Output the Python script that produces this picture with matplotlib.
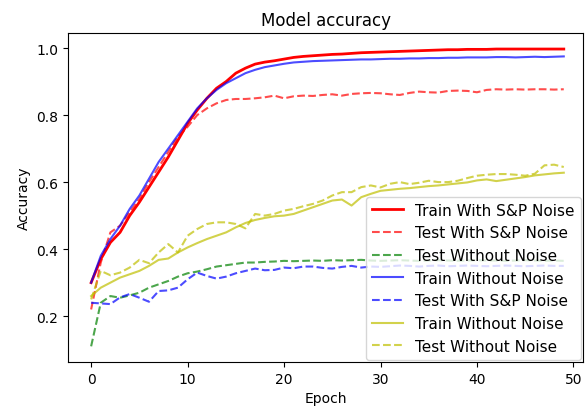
import matplotlib
matplotlib.use("Agg")
import matplotlib.pyplot as plt

# Epochs 0..49
epochs = list(range(50))

# Red: trained with salt & pepper noise
train_sp = [0.30, 0.37, 0.42, 0.45, 0.50, 0.54, 0.585, 0.63, 0.675, 0.725,
            0.775, 0.815, 0.85, 0.88, 0.90, 0.925, 0.94, 0.952, 0.958, 0.962,
            0.967, 0.972, 0.975, 0.977, 0.979, 0.981, 0.982, 0.984, 0.986, 0.987,
            0.988, 0.989, 0.99, 0.991, 0.992, 0.993, 0.994, 0.995, 0.995, 0.996,
            0.996, 0.996, 0.997, 0.997, 0.997, 0.997, 0.997, 0.997, 0.997, 0.997]
test_sp = [0.22, 0.36, 0.45, 0.47, 0.51, 0.55, 0.60, 0.645, 0.69, 0.735,
           0.765, 0.80, 0.82, 0.835, 0.845, 0.848, 0.848, 0.85, 0.853, 0.858,
           0.85, 0.856, 0.858, 0.857, 0.86, 0.862, 0.858, 0.863, 0.865, 0.866,
           0.865, 0.862, 0.86, 0.866, 0.87, 0.868, 0.867, 0.872, 0.873, 0.872,
           0.868, 0.875, 0.877, 0.876, 0.877, 0.876, 0.877, 0.877, 0.876, 0.877]
test_sp_clean = [0.11, 0.24, 0.26, 0.255, 0.262, 0.27, 0.285, 0.295, 0.305, 0.318,
                 0.328, 0.333, 0.34, 0.348, 0.352, 0.356, 0.36, 0.36, 0.362, 0.363,
                 0.365, 0.364, 0.365, 0.366, 0.365, 0.367, 0.366, 0.367, 0.368, 0.366,
                 0.365, 0.366, 0.367, 0.366, 0.365, 0.366, 0.367, 0.366, 0.365, 0.366,
                 0.367, 0.366, 0.366, 0.365, 0.366, 0.367, 0.366, 0.365, 0.366, 0.365]

# Blue: trained without noise
train_clean = [0.30, 0.38, 0.43, 0.47, 0.52, 0.56, 0.61, 0.66, 0.70, 0.74,
               0.78, 0.82, 0.85, 0.875, 0.895, 0.91, 0.925, 0.935, 0.943, 0.948,
               0.953, 0.957, 0.959, 0.961, 0.962, 0.963, 0.964, 0.965, 0.966, 0.966,
               0.967, 0.968, 0.968, 0.969, 0.969, 0.97, 0.97, 0.971, 0.971, 0.972,
               0.972, 0.972, 0.973, 0.973, 0.972, 0.973, 0.974, 0.973, 0.974, 0.975]
test_clean_sp = [0.24, 0.238, 0.236, 0.256, 0.266, 0.255, 0.243, 0.275, 0.277, 0.285,
                 0.31, 0.33, 0.32, 0.312, 0.318, 0.328, 0.335, 0.342, 0.337, 0.338,
                 0.345, 0.343, 0.348, 0.348, 0.344, 0.342, 0.347, 0.35, 0.345, 0.348,
                 0.347, 0.349, 0.351, 0.35, 0.348, 0.35, 0.351, 0.349, 0.35, 0.351,
                 0.35, 0.349, 0.35, 0.351, 0.35, 0.349, 0.35, 0.351, 0.35, 0.35]

# Yellow: trained without noise (second run)
train_clean2 = [0.26, 0.285, 0.30, 0.315, 0.325, 0.335, 0.35, 0.368, 0.372, 0.39,
                0.405, 0.418, 0.43, 0.44, 0.45, 0.465, 0.478, 0.487, 0.493, 0.498,
                0.50, 0.505, 0.515, 0.525, 0.535, 0.545, 0.548, 0.53, 0.555, 0.565,
                0.574, 0.577, 0.58, 0.582, 0.585, 0.588, 0.59, 0.593, 0.596, 0.599,
                0.605, 0.608, 0.603, 0.607, 0.611, 0.615, 0.62, 0.623, 0.626, 0.628]
test_clean2 = [0.25, 0.335, 0.322, 0.33, 0.345, 0.368, 0.358, 0.39, 0.415, 0.39,
               0.44, 0.46, 0.475, 0.48, 0.48, 0.475, 0.462, 0.505, 0.50, 0.505,
               0.515, 0.52, 0.528, 0.535, 0.545, 0.56, 0.57, 0.57, 0.585, 0.59,
               0.584, 0.595, 0.60, 0.594, 0.598, 0.604, 0.60, 0.60, 0.604, 0.612,
               0.619, 0.622, 0.624, 0.624, 0.622, 0.619, 0.625, 0.65, 0.652, 0.645]

fig = plt.figure(figsize=(5.86, 4.14), dpi=100)
ax = fig.add_axes([0.116, 0.123, 0.879, 0.795])

ax.plot(epochs, train_sp, color="r", lw=2, label="Train With S&P Noise")
ax.plot(epochs, test_sp, color="r", ls="--", alpha=0.7, label="Test With S&P Noise")
ax.plot(epochs, test_sp_clean, color="g", ls="--", alpha=0.7, label="Test Without Noise")
ax.plot(epochs, train_clean, color="b", alpha=0.7, label="Train Without Noise")
ax.plot(epochs, test_clean_sp, color="b", ls="--", alpha=0.7, label="Test With S&P Noise")
ax.plot(epochs, train_clean2, color="y", alpha=0.7, label="Train Without Noise")
ax.plot(epochs, test_clean2, color="y", ls="--", alpha=0.7, label="Test Without Noise")

ax.set_xlim(-2.4, 51.0)
ax.set_ylim(0.063, 1.045)
ax.set_xticks([0, 10, 20, 30, 40, 50])
ax.set_yticks([0.2, 0.4, 0.6, 0.8, 1.0])
ax.set_title("Model accuracy")
ax.set_xlabel("Epoch")
ax.set_ylabel("Accuracy")
ax.legend(loc="lower right", borderaxespad=0.15, fontsize=11)

plt.savefig("out.png", dpi=100)
